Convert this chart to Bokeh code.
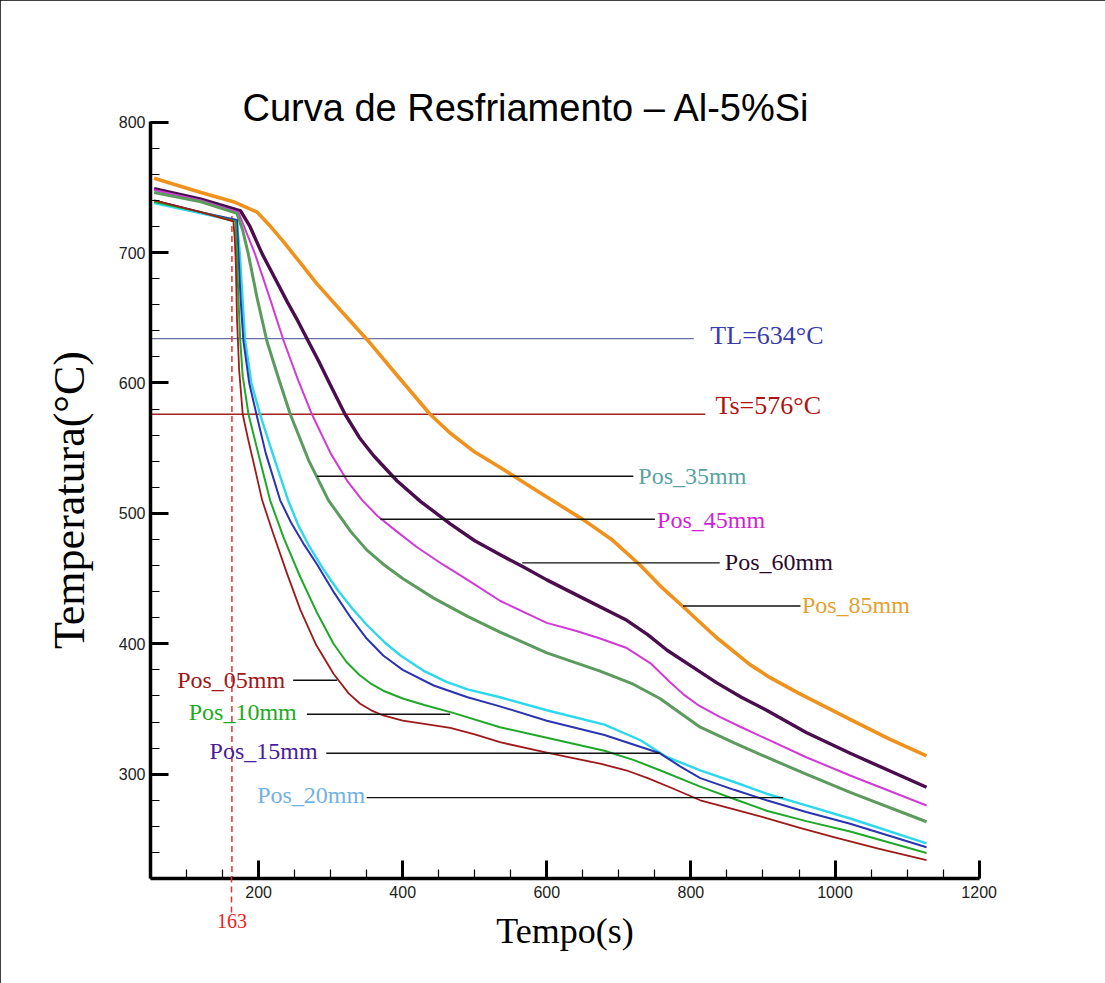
from bokeh.plotting import figure
from bokeh.models import Range1d, SingleIntervalTicker, FixedTicker, LinearAxis
from bokeh.core.properties import value
from bokeh.embed import file_html
from bokeh.resources import INLINE

# ---------------- data ----------------
series_names = ["Pos_05mm", "Pos_10mm", "Pos_15mm", "Pos_20mm",
                "Pos_35mm", "Pos_45mm", "Pos_60mm", "Pos_85mm"]

pos05_t = [55, 120, 165, 167, 168.5, 170, 173, 178, 185, 193, 205, 220, 240, 258, 280, 304, 325, 341, 358, 373,
           400, 430, 466, 500, 535, 600, 640, 674, 710, 740, 775, 813, 860, 900, 950, 997, 1060, 1127]
pos05_T = [740, 731, 724, 710, 690, 650, 610, 576, 558, 539, 510, 485, 453, 426, 399, 377, 362, 354, 348.5, 345,
           341, 338.5, 335.5, 330.5, 324.5, 316.5, 312, 308, 303, 297, 289, 280, 273, 267, 259, 252, 243, 234]

pos10_t = [55, 120, 168, 170, 172, 174.6, 178, 186, 200, 216, 235, 258, 280, 304, 322, 340, 357, 373, 400, 430,
           470, 535, 600, 680, 720, 757, 813, 860, 905, 960, 1021, 1127]
pos10_T = [739, 731, 724, 699, 665, 632, 605, 576, 545, 510, 481, 451, 425, 400, 386, 376, 369, 364, 358, 353,
           347, 336, 328, 318, 311, 303, 290.5, 281, 272, 264, 256, 239.5]

pos15_t = [55, 120, 170, 172, 175, 179, 187, 197, 210, 230, 245, 262, 281, 305, 328, 350, 373, 400, 443, 490,
           535, 600, 680, 757, 785, 813, 860, 905, 960, 1021, 1127]
pos15_T = [740, 731, 725, 699, 665, 632, 600, 576, 546, 510, 493, 477, 461, 439, 420, 404, 391, 380, 368, 359,
           352, 341, 330, 316, 306, 297, 288, 280, 271, 262, 244]

pos20_t = [55, 120, 170, 174, 178, 181.5, 190, 202, 220, 241, 255, 270, 290, 310, 330, 351, 375, 397, 430, 460,
           490, 535, 600, 680, 730, 767, 813, 860, 905, 960, 1021, 1127]
pos20_T = [738, 730, 724, 699, 662, 632, 600, 576, 545, 510, 491, 475, 457, 441, 427, 414, 401, 391, 379, 371,
           365, 359, 349, 338, 326, 313, 303, 294, 285, 276, 266, 247]

pos35_t = [55, 120, 170, 178, 185.7, 198, 211.6, 228, 244, 270, 297, 328, 350, 373, 400, 443, 490, 535, 600,
           674, 720, 757, 790, 813, 860, 905, 960, 1021, 1127]
pos35_T = [746, 739, 730, 717, 699, 665, 632, 603, 576, 540, 510, 486, 472, 461, 450, 435, 421, 409, 393,
           379, 369, 358, 345, 336, 324, 313, 300, 286, 263.5]

pos45_t = [55, 120, 172, 182, 195, 215, 235, 255, 274, 300, 323, 344, 365, 392, 420, 455, 490, 535, 600,
           640, 674, 710, 744, 770, 790, 810, 840, 870, 905, 960, 1021, 1127]
pos45_T = [748, 740, 731, 717, 699, 666, 632, 602, 576, 546, 525, 510, 498, 486, 474, 461, 449, 433, 416,
           410, 404, 397, 385, 371, 361, 353, 344, 336, 327, 313, 299, 276]

pos60_t = [55, 120, 175, 188, 205, 222, 240, 255, 269, 285, 300, 320, 340, 360, 392, 425, 466, 500, 536, 567,
           600, 650, 711, 740, 767, 800, 836, 870, 905, 960, 1021, 1127]
pos60_T = [749, 741, 732, 720, 699, 681, 662, 647, 632, 615, 598, 576, 558, 544, 525, 509, 492, 479, 468, 459,
           449, 435, 418, 407, 395, 383, 370, 359, 349, 332, 316, 290]

pos85_t = [55, 120, 165, 198, 215, 235, 258, 281, 315, 351, 395, 438, 465, 500, 536, 590, 651, 690, 730, 760,
           790, 835, 882, 910, 950, 1021, 1075, 1127]
pos85_T = [757, 746, 739, 731, 721, 708, 692, 676, 655, 633, 604, 576, 562, 547, 535, 516, 495, 480, 460, 443,
           428, 405, 384, 374, 362, 342, 327, 314]

line_colors = ["#9e1a1a", "#1fa82a", "#2a33b0", "#2ed8ec",
               "#5c9a5e", "#d23ad6", "#4a0d4e", "#f0911c"]
line_widths = [1.8, 2.0, 2.0, 2.4, 3.0, 2.0, 3.4, 3.6]
label_colors = ["#a01616", "#22aa22", "#4a1c9c", "#72b2e2",
                "#5aa2a2", "#d21ed4", "#2a0a2c", "#e6a032"]

# label positions (time, temperature) and pointer segments
label_t = [87, 103, 132, 198, 727, 753, 847, 954]
label_T = [372, 348, 318, 284, 529, 495, 463, 430]
ptr_t0 = [248, 267, 294, 350, 281, 369, 566, 789]
ptr_t1 = [309, 466, 757, 928, 720, 750, 840, 952]
ptr_T = [372, 346, 316, 282, 528.5, 495.5, 462, 429]

TL = 634
Ts = 576
TL_end = 804
Ts_end = 820
t_mark = 163
t_mark_top = 728

x_ticks_interval = 200
y_ticks_interval = 100

# ---------------- figure ----------------
p = figure(width=1105, height=983, output_backend="svg", toolbar_location=None,
           x_range=Range1d(50, 1200.5), y_range=Range1d(220, 800.5),
           min_border_left=150, min_border_right=126,
           min_border_top=121, min_border_bottom=105,
           background_fill_color="white", border_fill_color="white")
p.styles = {"outline": "1px solid black", "outline-offset": "-1px"}
p.outline_line_color = None
p.grid.visible = False

p.title.text = "Curva de Resfriamento \u2013 Al-5%Si"
p.title.text_font = "Liberation Sans"
p.title.text_font_size = "38px"
p.title.text_font_style = "normal"
p.title.text_color = "black"
p.title.align = "left"
p.title.offset = 92
p.title.standoff = -15

p.xaxis.ticker = SingleIntervalTicker(interval=x_ticks_interval, num_minor_ticks=4)
p.yaxis.ticker = SingleIntervalTicker(interval=y_ticks_interval, num_minor_ticks=5)
for ax in (p.xaxis[0], p.yaxis[0]):
    ax.axis_line_width = 3.5
    ax.axis_line_color = "black"
    ax.major_tick_in = 18
    ax.major_tick_out = 0
    ax.major_tick_line_width = 3
    ax.minor_tick_in = 9
    ax.minor_tick_out = 0
    ax.minor_tick_line_width = 1.2
    ax.major_label_text_font = "Liberation Sans"
    ax.major_label_text_font_size = "16px"
    ax.major_label_text_color = "#222222"
    ax.axis_label_text_font = "Liberation Serif"
    ax.axis_label_text_font_style = "normal"
    ax.axis_label_text_color = "black"
p.xaxis.major_label_standoff = 7
p.yaxis.major_label_standoff = 5
p.yaxis.axis_label = "Temperatura(\u00b0C)"
p.yaxis.axis_label_text_font_size = "44px"
p.yaxis.axis_label_standoff = 22

# second bottom axis: marks t = 163 s and carries the axis title
mark_axis = LinearAxis(ticker=FixedTicker(ticks=[t_mark]),
                       axis_line_color=None,
                       major_tick_in=28, major_tick_out=12,
                       major_tick_line_color="#e8322f", major_tick_line_width=1.5,
                       major_tick_line_dash="6 4",
                       minor_tick_line_color=None,
                       major_label_standoff=1,
                       major_label_text_color="#ee1c1c",
                       major_label_text_font="Liberation Serif",
                       major_label_text_font_size="20px",
                       axis_label="Tempo(s)",
                       axis_label_text_font="Liberation Serif",
                       axis_label_text_font_style="normal",
                       axis_label_text_font_size="36px",
                       axis_label_text_color="black",
                       axis_label_standoff=-20)
p.add_layout(mark_axis, "below")

# liquidus / solidus lines
p.segment(x0=[50], y0=[TL], x1=[TL_end], y1=[TL], line_color="#6a6fa8", line_width=1.3)
p.segment(x0=[50], y0=[Ts], x1=[Ts_end], y1=[Ts], line_color="#a42222", line_width=1.3)
p.text(x=[TL_end + 23], y=[TL + 2.5], text=["TL=634\u00b0C"], text_color="#3a3caa",
       text_font=value("Liberation Serif"), text_font_size="26px",
       text_baseline="middle", text_align="left")
p.text(x=[Ts_end + 14], y=[Ts + 6.5], text=["Ts=576\u00b0C"], text_color="#b01212",
       text_font=value("Liberation Serif"), text_font_size="26px",
       text_baseline="middle", text_align="left")

# t = 163 s dashed marker inside the plot
p.segment(x0=[t_mark], y0=[t_mark_top], x1=[t_mark], y1=[220], line_color="#e8322f",
          line_width=1.5, line_dash="6 4")

# curves
all_t = [pos05_t, pos10_t, pos15_t, pos20_t, pos35_t, pos45_t, pos60_t, pos85_t]
all_T = [pos05_T, pos10_T, pos15_T, pos20_T, pos35_T, pos45_T, pos60_T, pos85_T]
for i in [7, 6, 5, 4, 3, 2, 1, 0]:
    p.line(all_t[i], all_T[i], line_color=line_colors[i], line_width=line_widths[i],
           line_join="round")

# pointers and labels
p.segment(x0=ptr_t0, y0=ptr_T, x1=ptr_t1, y1=ptr_T, line_color="#111111", line_width=1.4)
p.text(x=label_t, y=label_T, text=series_names, text_color=label_colors,
       text_font=value("Liberation Serif"), text_font_size="24px",
       text_baseline="middle", text_align="left")

open("out.html", "w").write(file_html(p, INLINE))
